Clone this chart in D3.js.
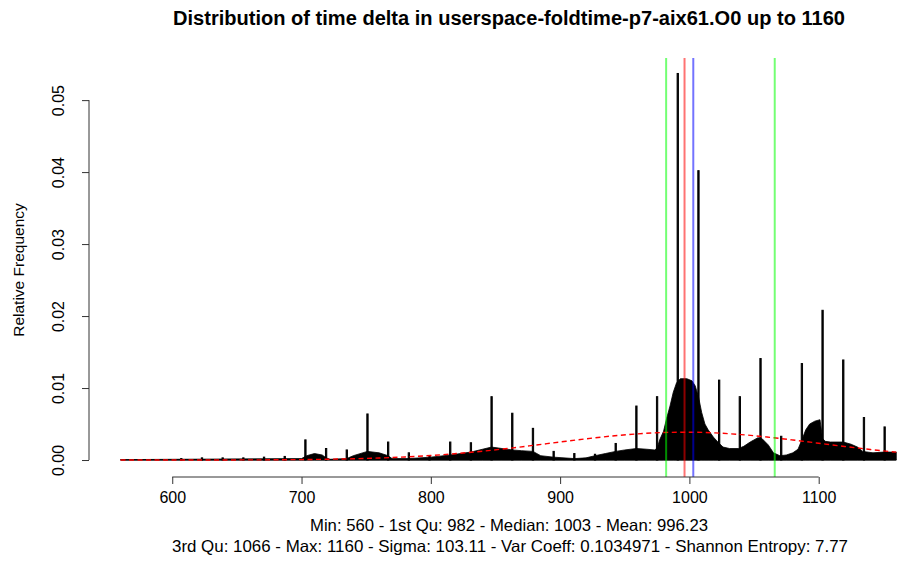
<!DOCTYPE html>
<html><head><meta charset="utf-8">
<script src="https://cdn.jsdelivr.net/npm/d3@7"></script>
<style>
html,body{margin:0;padding:0;background:#fff;}
svg{display:block;font-family:"Liberation Sans",Arial,Helvetica,sans-serif;}
</style></head>
<body>
<svg id="chart" width="897" height="561"></svg>
<script>
// ---- data ----
const titleText = "Distribution of time delta in userspace-foldtime-p7-aix61.O0 up to 1160";
const yLabel = "Relative Frequency";
const statsLine1 = "Min: 560 - 1st Qu: 982 - Median: 1003 - Mean: 996.23";
const statsLine2 = "3rd Qu: 1066 - Max: 1160 - Sigma: 103.11 - Var Coeff: 0.1034971 - Shannon Entropy: 7.77";
const xTicks = [600, 700, 800, 900, 1000, 1100];
const yTicks = [0.00, 0.01, 0.02, 0.03, 0.04, 0.05];
const yTickLabels = ["0.00", "0.01", "0.02", "0.03", "0.04", "0.05"];

// background mass of the histogram (value, relative frequency)
const envX = [560, 600, 700, 704, 710, 716, 719, 722, 735, 740, 751, 760, 767, 770, 783, 800, 815, 831, 840, 847, 855, 863, 870, 879, 885, 895, 911, 920, 927, 935, 943, 950, 959, 967, 973, 975, 977, 980, 982.4, 985, 987.5, 990, 993, 998, 1002, 1004.5, 1007, 1009.5, 1012, 1014.5, 1018.5, 1022, 1026, 1031, 1038, 1042, 1047, 1053, 1056, 1061, 1065, 1070, 1075, 1080, 1084, 1087, 1090, 1093, 1097, 1101, 1103, 1105, 1109, 1119, 1125, 1130, 1134, 1142, 1150, 1160];
const envY = [0.00005, 0.0001, 0.0002, 0.0006, 0.0009, 0.0007, 0.0003, 0.0001, 0.0002, 0.0006, 0.0012, 0.0010, 0.0006, 0.0002, 0.0002, 0.0004, 0.0007, 0.0011, 0.0015, 0.0018, 0.0016, 0.0014, 0.0013, 0.0012, 0.0006, 0.0004, 0.0002, 0.0003, 0.0006, 0.0009, 0.0012, 0.0014, 0.0016, 0.0015, 0.0014, 0.0016, 0.0028, 0.0040, 0.0058, 0.0075, 0.0094, 0.0107, 0.0113, 0.0113, 0.0110, 0.0103, 0.0088, 0.0066, 0.0050, 0.0042, 0.0032, 0.0025, 0.0018, 0.0016, 0.0016, 0.0019, 0.0025, 0.0031, 0.0030, 0.0021, 0.0010, 0.0006, 0.0007, 0.0010, 0.0015, 0.0028, 0.0042, 0.0050, 0.0054, 0.0056, 0.0030, 0.0026, 0.0025, 0.0025, 0.0022, 0.0018, 0.0012, 0.0010, 0.0011, 0.0011];

// single-bin spikes
const spikeX = [607, 623, 639, 655, 671, 687, 703, 719, 735, 751, 767, 783, 799, 815, 831, 847, 863, 879, 895, 911, 927, 943, 959, 975, 991, 1007, 1023, 1039, 1055, 1071, 1087, 1103, 1119, 1135, 1151];
const spikeY = [0.0002, 0.0003, 0.0003, 0.0003, 0.0004, 0.0005, 0.0028, 0.0016, 0.0014, 0.0064, 0.0025, 0.0010, 0.0006, 0.0025, 0.0024, 0.0088, 0.0065, 0.0044, 0.0012, 0.0009, 0.0008, 0.0023, 0.0075, 0.0088, 0.0537, 0.0402, 0.0111, 0.0088, 0.0141, 0.0033, 0.0134, 0.0208, 0.0139, 0.0059, 0.0046];

// fitted normal density (dashed red), value / density
const normX = [560, 580, 600, 620, 640, 660, 680, 700, 720, 740, 760, 780, 800, 820, 840, 860, 880, 900, 920, 940, 960, 980, 1000, 1020, 1040, 1060, 1080, 1100, 1120, 1140, 1160];
const normY = [0.0000005, 0.0000011, 0.0000024, 0.000005, 0.0000099, 0.000019, 0.000035, 0.000062, 0.000107, 0.000176, 0.00028, 0.000429, 0.000633, 0.000898, 0.001228, 0.001617, 0.00205, 0.002503, 0.002944, 0.003334, 0.003637, 0.003821, 0.003866, 0.003768, 0.003535, 0.003195, 0.002781, 0.002332, 0.001882, 0.001464, 0.001096];

// vertical reference lines
const vLineValues = [982, 996.23, 1003, 1066];
const vLineColors = ["#00ff00", "#ff0000", "#0000ff", "#00ff00"];

// ---- drawing ----
const svg = d3.select("#chart");
const x = d3.scaleLinear().domain([536, 1184]).range([89.5, 927.3]);
const y = d3.scaleLinear().domain([-0.00215, 0.05585]).range([475.5, 58]);
const FONT = "Liberation Sans, Arial, sans-serif";

svg.append("rect").attr("width", 897).attr("height", 561).attr("fill", "#fff");

// baseline of zero-height bins
svg.append("line")
  .attr("x1", x(560)).attr("x2", x(1160))
  .attr("y1", y(0)).attr("y2", y(0))
  .attr("stroke", "#222").attr("stroke-width", 1);

// histogram mass
const env = envX.map((v, i) => [v, envY[i]]);
svg.append("path")
  .datum(env)
  .attr("d", d3.area().x(d => x(d[0])).y0(y(0)).y1(d => y(d[1])))
  .attr("fill", "#000").attr("stroke", "#000").attr("stroke-width", 0.8);

// spikes
svg.append("g").selectAll("rect")
  .data(spikeX.map((v, i) => [v, spikeY[i]]))
  .join("rect")
  .attr("x", d => x(d[0] - 0.5))
  .attr("width", d => x(d[0] + 0.5) - x(d[0] - 0.5))
  .attr("y", d => y(d[1]))
  .attr("height", d => y(0) - y(d[1]))
  .attr("fill", "#000").attr("stroke", "#000").attr("stroke-width", 1);

// normal density curve
svg.append("path")
  .datum(normX.map((v, i) => [v, normY[i]]))
  .attr("d", d3.line().x(d => x(d[0])).y(d => y(d[1])).curve(d3.curveMonotoneX))
  .attr("fill", "none").attr("stroke", "#ff0000").attr("stroke-width", 1.4)
  .attr("stroke-dasharray", "5,3.5");

// vertical lines
svg.append("g").selectAll("line")
  .data(vLineValues.map((v, i) => [v, vLineColors[i]]))
  .join("line")
  .attr("x1", d => x(d[0])).attr("x2", d => x(d[0]))
  .attr("y1", 58).attr("y2", 477)
  .attr("stroke", d => d[1]).attr("stroke-opacity", 0.55).attr("stroke-width", 2);

// x axis
const xAxis = d3.axisBottom(x).tickValues(xTicks).tickSize(7).tickFormat(d3.format("d"));
const gx = svg.append("g").attr("transform", "translate(0,477)").call(xAxis);
gx.select(".domain").attr("d", `M${x(600)},0H${x(1100)}`).attr("stroke", "#333");
gx.selectAll(".tick line").attr("stroke", "#333");
gx.selectAll("text").attr("font-size", 16).attr("fill", "#000").attr("font-family", FONT)
  .attr("y", 26).attr("dy", null);

// y axis
const yAxis = d3.axisLeft(y).tickValues(yTicks).tickSize(7).tickFormat((d, i) => yTickLabels[i]);
const gy = svg.append("g").attr("transform", "translate(89,0)").call(yAxis);
gy.select(".domain").attr("d", `M0,${y(0)}V${y(0.05)}`).attr("stroke", "#333");
gy.selectAll(".tick line").attr("stroke", "#333");
gy.selectAll("text")
  .attr("font-size", 16).attr("fill", "#000").attr("font-family", FONT)
  .attr("x", null).attr("dy", null)
  .attr("text-anchor", "middle")
  .attr("transform", "translate(-29,0) rotate(-90)")
  .attr("dominant-baseline", "middle");

// title
svg.append("text").attr("x", 509).attr("y", 25)
  .attr("text-anchor", "middle").attr("font-weight", "bold").attr("font-size", 19.5)
  .attr("textLength", 672).attr("lengthAdjust", "spacingAndGlyphs")
  .text(titleText);

// y label
svg.append("text").attr("transform", "translate(20,270) rotate(-90)")
  .attr("text-anchor", "middle").attr("font-size", 15.5)
  .attr("dominant-baseline", "middle")
  .text(yLabel);

// stats lines
svg.append("text").attr("x", 509).attr("y", 531).attr("text-anchor", "middle").attr("font-size", 16.5)
  .attr("textLength", 398).attr("lengthAdjust", "spacingAndGlyphs").text(statsLine1);
svg.append("text").attr("x", 510).attr("y", 552).attr("text-anchor", "middle").attr("font-size", 16.5)
  .attr("textLength", 676).attr("lengthAdjust", "spacingAndGlyphs").text(statsLine2);
</script>
</body></html>
